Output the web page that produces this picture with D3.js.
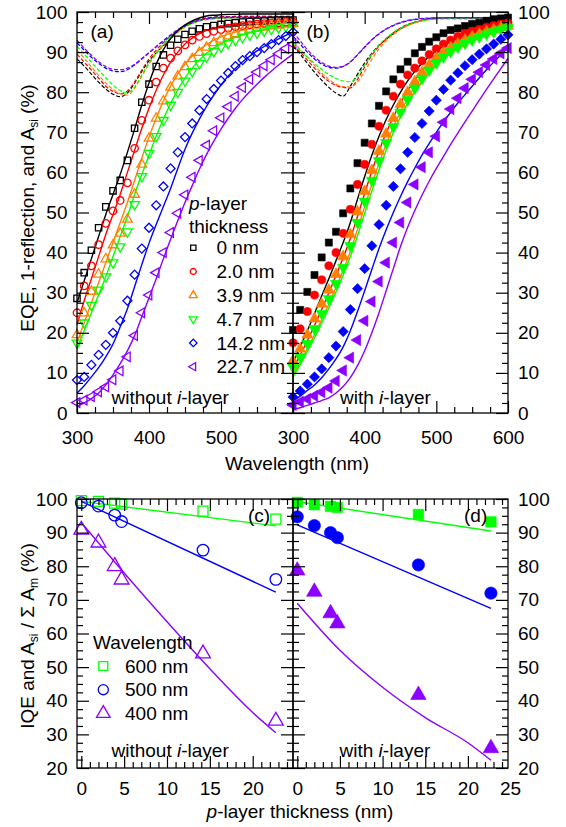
<!DOCTYPE html>
<html>
<head>
<meta charset="utf-8">
<script src="https://cdnjs.cloudflare.com/ajax/libs/d3/7.8.5/d3.min.js"></script>
<style>
  body { margin: 0; background: #fff; }
  text { font-family: Arial, "Liberation Sans", sans-serif; }
</style>
</head>
<body>
<svg id="chart" width="566" height="827"></svg>
<script>
// wavelengths of the spectra (nm)
var wl = [300, 310, 320, 330, 340, 350, 360, 370, 380, 390,
          400, 410, 420, 430, 440, 450, 460, 470, 480, 490,
          500, 510, 520, 530, 540, 550, 560, 570, 580, 590, 600];

var thickLabels = ["0 nm", "2.0 nm", "3.9 nm", "4.7 nm", "14.2 nm", "22.7 nm"];
var colors = ["#000000", "#ff0000", "#ff8000", "#00ff00", "#0000ff", "#8b00ff"];
var shapes = ["square", "circle", "up", "down", "diamond", "left"];

// (a) measured EQE, without i-layer
var eqeA = [
  [28.6, 35.0, 40.6, 46.2, 51.4, 55.4, 58.0, 63.0, 71.0, 77.5,
   82.0, 86.4, 89.3, 91.7, 93.2, 94.4, 95.2, 95.8, 96.3, 96.6,
   96.9, 97.1, 97.3, 97.5, 97.6, 97.7, 97.8, 97.9, 98.0, 98.0, 98.0],
  [25.0, 31.7, 36.7, 42.0, 47.3, 50.4, 53.0, 57.4, 66.0, 73.0,
   78.0, 82.5, 86.0, 88.5, 90.3, 91.8, 93.0, 93.9, 94.6, 95.2,
   95.6, 96.0, 96.3, 96.6, 96.8, 97.0, 97.1, 97.2, 97.3, 97.4, 97.5],
  [19.5, 24.9, 30.3, 34.6, 38.4, 41.9, 44.8, 48.3, 54.5, 62.0,
   68.5, 73.5, 77.8, 81.2, 84.0, 86.3, 88.3, 89.9, 91.2, 92.3,
   93.2, 94.0, 94.6, 95.1, 95.5, 95.9, 96.2, 96.5, 96.7, 96.9, 97.1],
  [17.5, 22.5, 26.9, 30.7, 34.0, 37.5, 41.5, 45.2, 52.0, 59.0,
   64.8, 69.0, 73.0, 76.8, 80.0, 82.8, 85.2, 87.2, 88.8, 90.2,
   91.3, 92.2, 93.0, 93.7, 94.3, 94.8, 95.3, 95.7, 96.1, 96.4, 96.7],
  [8.2, 9.0, 12.0, 14.5, 17.0, 20.0, 23.0, 28.0, 34.5, 41.0,
   46.2, 51.8, 56.5, 61.0, 65.0, 68.8, 72.2, 75.5, 78.3, 80.8,
   82.9, 84.8, 86.5, 88.0, 89.0, 90.0, 91.0, 92.0, 93.0, 94.0, 95.0],
  [2.6, 3.2, 4.1, 5.3, 6.5, 8.3, 10.5, 14.0, 19.3, 25.0,
   29.4, 35.0, 40.0, 45.0, 49.8, 54.4, 58.8, 63.0, 66.8, 70.4,
   73.6, 76.4, 79.0, 81.2, 83.2, 85.0, 86.6, 88.1, 89.6, 90.9, 92.0]
];

// (a) simulated A_si
var simA = [
  [27.5, 33.0, 38.5, 44.0, 49.5, 54.5, 59.5, 65.0, 70.8, 76.8,
   82.3, 87.0, 90.6, 93.4, 95.4, 96.8, 97.8, 98.5, 99.0, 99.2,
   99.3, 99.4, 99.4, 99.5, 99.5, 99.5, 99.5, 99.5, 99.5, 99.5, 99.5],
  [22.0, 28.0, 33.5, 39.0, 44.5, 49.5, 54.5, 60.0, 65.5, 71.0,
   76.0, 80.5, 84.3, 87.5, 90.0, 92.0, 93.5, 94.6, 95.4, 96.0,
   96.4, 96.7, 96.9, 97.1, 97.3, 97.4, 97.5, 97.6, 97.7, 97.7, 97.8],
  [17.5, 22.5, 27.5, 32.5, 37.5, 42.5, 47.5, 52.5, 58.0, 63.5,
   68.8, 73.5, 77.8, 81.5, 84.5, 87.0, 89.0, 90.6, 91.9, 93.0,
   93.8, 94.5, 95.0, 95.5, 95.9, 96.2, 96.5, 96.7, 96.9, 97.1, 97.3],
  [16.0, 20.5, 25.0, 29.5, 34.0, 39.0, 44.0, 49.0, 54.5, 59.5,
   64.3, 69.0, 73.3, 77.2, 80.6, 83.5, 86.0, 88.0, 89.7, 91.0,
   92.1, 93.0, 93.7, 94.3, 94.8, 95.2, 95.6, 95.9, 96.2, 96.5, 96.7],
  [5.0, 6.8, 9.0, 11.3, 14.0, 17.2, 21.5, 26.0, 31.5, 37.0,
   42.3, 47.0, 51.5, 56.0, 61.0, 65.8, 69.8, 73.3, 76.5, 79.3,
   81.8, 84.0, 85.9, 87.6, 89.0, 90.3, 91.4, 92.4, 93.3, 94.2, 95.0],
  [1.6, 2.5, 3.6, 5.0, 7.0, 9.5, 12.3, 15.5, 19.3, 24.0,
   28.7, 33.5, 38.5, 43.3, 48.0, 52.5, 56.7, 60.8, 64.5, 67.8,
   70.8, 73.5, 76.0, 78.2, 80.2, 82.0, 83.7, 85.3, 86.8, 88.2, 89.5]
];

// (a) 1-reflection
var refA = [
  [88.3, 86.5, 84.5, 82.5, 80.8, 79.5, 78.9, 79.8, 82.3, 85.2,
   87.8, 89.8, 91.6, 93.3, 95.0, 96.5, 97.5, 98.1, 98.5, 98.7,
   98.8, 98.8, 98.9, 98.9, 98.9, 98.9, 98.9, 98.9, 98.9, 98.9, 98.9],
  [89.5, 87.5, 85.5, 83.5, 81.5, 80.2, 79.6, 80.3, 82.5, 85.5,
   88.3, 90.5, 92.4, 94.0, 95.4, 96.6, 97.5, 98.1, 98.4, 98.6,
   98.7, 98.7, 98.8, 98.8, 98.8, 98.8, 98.8, 98.8, 98.8, 98.8, 98.8],
  [90.5, 88.5, 86.3, 84.2, 82.3, 80.7, 79.6, 79.3, 81.0, 84.0,
   87.0, 89.5, 91.7, 93.5, 95.0, 96.2, 97.1, 97.7, 98.1, 98.3,
   98.4, 98.5, 98.5, 98.5, 98.5, 98.5, 98.5, 98.5, 98.5, 98.5, 98.5],
  [91.5, 89.5, 87.5, 85.5, 83.6, 81.8, 80.4, 79.8, 81.3, 84.3,
   87.3, 89.8, 92.0, 93.8, 95.2, 96.3, 97.2, 97.8, 98.2, 98.4,
   98.5, 98.5, 98.5, 98.5, 98.5, 98.5, 98.5, 98.5, 98.5, 98.5, 98.5],
  [92.3, 90.5, 88.7, 87.2, 86.0, 85.3, 85.1, 85.6, 86.8, 88.3,
   89.8, 91.3, 92.8, 94.2, 95.5, 96.5, 97.3, 97.9, 98.3, 98.5,
   98.6, 98.6, 98.6, 98.6, 98.6, 98.6, 98.6, 98.6, 98.6, 98.6, 98.6],
  [93.0, 91.0, 89.2, 87.6, 86.4, 85.7, 85.6, 86.0, 87.0, 88.4,
   89.9, 91.4, 92.9, 94.3, 95.6, 96.6, 97.4, 98.0, 98.4, 98.6,
   98.7, 98.7, 98.7, 98.7, 98.7, 98.7, 98.7, 98.7, 98.7, 98.7, 98.7]
];

// (b) measured EQE, with i-layer
var eqeB = [
  [20.7, 25.7, 30.2, 34.4, 38.8, 42.5, 45.2, 49.8, 56.0, 62.3,
   67.4, 72.2, 76.6, 80.2, 83.2, 85.7, 87.6, 89.7, 91.3, 92.6,
   93.7, 94.7, 95.5, 95.9, 96.5, 97.0, 97.3, 97.8, 98.2, 98.4, 98.6],
  [17.5, 21.0, 25.3, 29.4, 33.2, 36.7, 40.0, 44.8, 50.8, 57.0,
   62.0, 67.0, 71.5, 75.5, 79.0, 82.0, 84.3, 86.0, 87.8, 89.4,
   90.8, 92.0, 93.0, 93.9, 94.6, 95.2, 95.7, 96.2, 96.6, 97.0, 97.3],
  [13.0, 16.0, 19.5, 23.5, 27.2, 30.7, 34.6, 39.0, 44.5, 50.2,
   55.3, 60.5, 65.3, 69.6, 73.5, 77.0, 80.0, 82.6, 84.9, 86.8,
   88.5, 89.9, 91.1, 92.1, 93.0, 93.8, 94.5, 95.1, 95.6, 96.1, 96.5],
  [11.5, 14.0, 17.3, 21.0, 24.8, 28.5, 32.3, 36.3, 41.7, 47.5,
   52.8, 58.0, 62.9, 67.4, 71.4, 75.0, 78.2, 81.0, 83.4, 85.5,
   87.3, 88.8, 90.1, 91.2, 92.2, 93.0, 93.8, 94.5, 95.1, 95.6, 96.1],
  [4.0, 5.5, 7.2, 9.0, 11.0, 13.8, 16.7, 20.3, 25.8, 31.0,
   36.0, 41.7, 47.0, 51.8, 56.5, 60.9, 65.0, 68.7, 72.2, 75.3,
   78.0, 80.7, 83.0, 84.8, 86.6, 88.1, 89.5, 90.8, 92.0, 93.2, 94.3],
  [2.0, 2.8, 3.5, 4.3, 5.2, 6.3, 8.0, 10.6, 13.8, 18.2,
   23.0, 27.8, 32.8, 37.5, 42.5, 47.5, 52.5, 57.0, 61.3, 65.0,
   69.0, 72.5, 75.8, 78.5, 81.0, 83.2, 85.0, 86.8, 88.3, 89.7, 91.0]
];

// (b) simulated A_si
var simB = [
  [12.5, 16.5, 20.5, 24.8, 29.2, 33.5, 38.0, 42.5, 47.5, 53.3,
   59.0, 64.3, 69.0, 73.2, 76.8, 80.0, 82.8, 85.2, 87.2, 88.9,
   90.3, 91.5, 92.6, 93.5, 94.3, 95.0, 95.6, 96.1, 96.6, 97.0, 97.4],
  [11.0, 14.5, 18.0, 21.8, 25.8, 30.0, 34.3, 38.7, 43.5, 49.0,
   54.8, 60.3, 65.3, 69.8, 73.8, 77.3, 80.4, 83.0, 85.3, 87.2,
   88.8, 90.2, 91.4, 92.4, 93.3, 94.1, 94.8, 95.4, 95.9, 96.4, 96.8],
  [9.5, 12.5, 16.0, 19.5, 23.3, 27.2, 31.3, 35.6, 40.3, 45.8,
   51.5, 57.0, 62.2, 67.0, 71.3, 75.1, 78.4, 81.3, 83.8, 85.9,
   87.7, 89.3, 90.6, 91.8, 92.8, 93.7, 94.4, 95.1, 95.6, 96.1, 96.5],
  [9.0, 12.0, 15.3, 18.7, 22.4, 26.2, 30.2, 34.4, 39.0, 44.2,
   49.8, 55.3, 60.6, 65.5, 69.9, 73.8, 77.2, 80.2, 82.8, 85.0,
   86.9, 88.6, 90.0, 91.2, 92.3, 93.2, 94.0, 94.7, 95.3, 95.8, 96.3],
  [3.0, 4.2, 5.6, 7.0, 8.8, 11.0, 13.5, 16.5, 20.5, 25.3,
   30.5, 35.8, 41.0, 45.7, 50.0, 54.0, 57.7, 61.1, 64.3, 67.2,
   70.0, 72.6, 75.0, 77.3, 79.4, 81.5, 83.6, 85.6, 87.5, 89.3, 91.0],
  [0.8, 1.3, 1.9, 2.5, 3.1, 3.8, 5.0, 6.6, 8.8, 11.8,
   15.5, 20.0, 25.0, 30.5, 36.0, 41.5, 46.3, 50.5, 54.3, 57.8,
   61.0, 64.0, 67.0, 69.8, 72.6, 75.3, 78.0, 80.7, 83.3, 85.9, 88.4]
];

// (b) 1-reflection
var refB = [
  [91.5, 89.5, 87.2, 85.0, 83.0, 81.2, 79.8, 79.0, 81.5, 84.5,
   87.3, 89.7, 91.7, 93.2, 94.6, 95.8, 96.7, 97.4, 97.9, 98.2,
   98.4, 98.5, 98.6, 98.6, 98.6, 98.6, 98.6, 98.6, 98.6, 98.6, 98.6],
  [91.8, 90.0, 88.0, 86.0, 84.2, 82.7, 81.7, 81.2, 81.1, 83.2,
   86.3, 89.2, 91.5, 93.3, 94.8, 96.0, 96.9, 97.5, 97.9, 98.2,
   98.4, 98.5, 98.5, 98.5, 98.5, 98.5, 98.5, 98.5, 98.5, 98.5, 98.5],
  [92.5, 90.7, 88.7, 86.7, 84.8, 83.2, 82.0, 81.4, 81.3, 82.5,
   85.2, 88.2, 90.8, 92.8, 94.4, 95.7, 96.6, 97.3, 97.8, 98.1,
   98.3, 98.4, 98.4, 98.4, 98.4, 98.4, 98.4, 98.4, 98.4, 98.4, 98.4],
  [92.0, 90.5, 88.8, 87.2, 85.7, 84.4, 83.4, 82.8, 82.6, 84.0,
   86.8, 89.5, 91.8, 93.5, 94.9, 96.0, 96.8, 97.4, 97.8, 98.1,
   98.3, 98.3, 98.3, 98.3, 98.3, 98.3, 98.3, 98.3, 98.3, 98.3, 98.3],
  [94.0, 92.0, 90.0, 88.3, 87.0, 86.2, 86.0, 86.4, 87.5, 89.3,
   91.2, 93.0, 94.5, 95.7, 96.6, 97.3, 97.8, 98.1, 98.3, 98.4,
   98.5, 98.5, 98.5, 98.5, 98.5, 98.5, 98.5, 98.5, 98.5, 98.5, 98.5],
  [95.0, 92.8, 90.6, 88.8, 87.4, 86.5, 86.2, 86.5, 87.6, 89.4,
   91.3, 93.1, 94.6, 95.8, 96.7, 97.4, 97.9, 98.2, 98.4, 98.5,
   98.6, 98.6, 98.6, 98.6, 98.6, 98.6, 98.6, 98.6, 98.6, 98.6, 98.6]
];

// (c)/(d) IQE vs p-layer thickness
var thick = [0, 2.0, 3.9, 4.7, 14.2, 22.7];
var wlLabels = ["600 nm", "500 nm", "400 nm"];
var wlColors = ["#00ff00", "#0000ff", "#8b00ff"];
var wlShapes = ["square", "circle", "up"];

var iqeC600 = [99.5, 99.3, 98.8, 98.5, 96.4, 94.0];
var iqeC500 = [98.9, 97.9, 95.2, 93.3, 84.8, 76.1];
var iqeC400 = [90.8, 87.0, 80.0, 76.0, 54.0, 34.0];
var iqeD600 = [99.0, 98.3, 97.8, 97.5, 95.4, 93.2];
var iqeD500 = [94.7, 92.1, 90.0, 88.5, 80.4, 72.0];
var iqeD400 = [78.7, 72.4, 66.0, 63.0, 41.7, 25.9];

// simulated A_si / sum A_m
var fitT2 = [0, 22.7];
var fitT6 = [0, 5, 10, 15, 20, 22.7];
var fitC600 = [99.3, 92.0];
var fitC500 = [99.3, 72.3];
var fitC400 = [93.0, 78.0, 63.5, 49.5, 36.5, 30.5];
var fitD600 = [99.2, 90.5];
var fitD500 = [92.3, 67.5];
var fitD400 = [69.0, 55.0, 44.0, 35.0, 27.5, 22.3];

// tick labels
var yTicksTop = [0, 10, 20, 30, 40, 50, 60, 70, 80, 90, 100];
var xTicksA = [300, 400, 500];
var xTicksB = [300, 400, 500, 600];
var yTicksBot = [20, 30, 40, 50, 60, 70, 80, 90, 100];
var xTicksBot = [0, 5, 10, 15, 20];

var svg = d3.select("#chart");

// scales
var xA = d3.scaleLinear().domain([300, 600]).range([77, 293]);
var xB = d3.scaleLinear().domain([300, 600]).range([293, 508]);
var yT = d3.scaleLinear().domain([0, 100]).range([413, 12]);
var xC = d3.scaleLinear().domain([-0.5, 24.7]).range([77, 293]);
var xD = d3.scaleLinear().domain([-0.5, 24.7]).range([293, 508]);
var yL = d3.scaleLinear().domain([20, 100]).range([768, 499]);

// frame with inward ticks on all four sides
function frame(x, y, o) {
  var x0 = x.range()[0], x1 = x.range()[1];
  var y1 = y.range()[0], y0 = y.range()[1];
  var g = svg.append("g");
  var sides = [
    {fn: d3.axisBottom, sc: x, tr: "translate(0," + y1 + ")", maj: o.xMaj, min: o.xMin, lab: o.xLab, pad: o.xPad},
    {fn: d3.axisTop, sc: x, tr: "translate(0," + y0 + ")", maj: o.xMaj, min: o.xMin},
    {fn: d3.axisLeft, sc: y, tr: "translate(" + x0 + ",0)", maj: o.yMaj, min: o.yMin, lab: o.yLabL, pad: 9.5},
    {fn: d3.axisRight, sc: y, tr: "translate(" + x1 + ",0)", maj: o.yMaj, min: o.yMin, lab: o.yLabR, pad: 10}
  ];
  sides.forEach(function(s) {
    g.append("g").attr("transform", s.tr)
      .call(s.fn(s.sc).tickValues(s.min).tickSize(-6).tickFormat(""));
    g.append("g").attr("transform", s.tr)
      .call(s.fn(s.sc).tickValues(s.maj).tickSize(-12).tickPadding(s.pad || 9)
        .tickFormat(function(d) { return s.lab && s.lab.indexOf(d) >= 0 ? d : ""; }));
  });
  g.selectAll(".domain").remove();
  g.selectAll("line").attr("stroke", "#000").attr("stroke-width", 1.2);
  g.selectAll("text").attr("font-size", 19).attr("fill", "#000")
    .style("font-family", "Arial, 'Liberation Sans', sans-serif");
  g.append("rect").attr("x", x0).attr("y", y0)
    .attr("width", x1 - x0).attr("height", y1 - y0)
    .attr("fill", "none").attr("stroke", "#000").attr("stroke-width", 1.3);
}

function marker(g, kind, x, y, size, color, filled) {
  var type = d3.symbolTriangle, rot = 0;
  if (kind == "square") type = d3.symbolSquare;
  else if (kind == "circle") type = d3.symbolCircle;
  else if (kind == "diamond") { type = d3.symbolSquare; rot = 45; }
  else if (kind == "down") rot = 180;
  else if (kind == "left") rot = -90;
  g.append("path")
    .attr("d", d3.symbol().type(type).size(size)())
    .attr("transform", "translate(" + x + "," + y + ") rotate(" + rot + ")")
    .attr("fill", filled ? color : "none")
    .attr("stroke", color)
    .attr("stroke-width", filled ? 0.6 : 1.3);
}

function spectra(xs, ref, sim, eqe, filled) {
  var g = svg.append("g");
  var line = d3.line()
    .x(function(d, i) { return xs(wl[i]); })
    .y(function(d) { return yT(d); })
    .curve(d3.curveMonotoneX);
  ref.forEach(function(s, k) {
    g.append("path").attr("d", line(s)).attr("fill", "none")
      .attr("stroke", colors[k]).attr("stroke-width", 1.2).attr("stroke-dasharray", "4,2");
  });
  sim.forEach(function(s, k) {
    g.append("path").attr("d", line(s)).attr("fill", "none")
      .attr("stroke", colors[k]).attr("stroke-width", 1.4);
  });
  var oSize = [40, 44, 40, 40, 40, 40];
  var fSize = [50, 52, 55, 55, 52, 55];
  eqe.forEach(function(s, k) {
    s.forEach(function(v, i) {
      marker(g, shapes[k], xs(wl[i]), yT(v), filled ? fSize[k] : oSize[k], colors[k], filled);
    });
  });
}

function iqe(xs, pts, fits, filled) {
  var g = svg.append("g");
  fits.forEach(function(f, k) {
    var line = d3.line()
      .x(function(d, i) { return xs(f.t[i]); })
      .y(function(d) { return yL(d); })
      .curve(d3.curveMonotoneX);
    g.append("path").attr("d", line(f.v)).attr("fill", "none")
      .attr("stroke", wlColors[k]).attr("stroke-width", 1.4);
  });
  var sz = filled ? [110, 120, 105] : [100, 105, 95];
  pts.forEach(function(s, k) {
    s.forEach(function(v, i) {
      marker(g, wlShapes[k], xs(thick[i]), yL(v), sz[k], wlColors[k], filled);
    });
  });
}

function label(x, y, parts, opts) {
  var t = svg.append("text").attr("x", x).attr("y", y)
    .attr("font-size", 19).attr("fill", "#000");
  if (opts && opts.anchor) t.attr("text-anchor", opts.anchor);
  if (opts && opts.rotate) t.attr("transform", "rotate(-90," + x + "," + y + ")");
  parts.forEach(function(p) {
    var s = t.append("tspan").text(p.t);
    if (p.i) s.attr("font-style", "italic");
    if (p.sub) s.attr("font-size", 12).attr("dy", 4);
    if (p.up) s.attr("dy", -4);
  });
  return t;
}

var minorTop = d3.range(0, 100.1, 2.5).filter(function(d) { return d % 10 != 0; });
var minorWl = d3.range(300, 601, 25).filter(function(d) { return d % 100 != 0; });
var minorBot = d3.range(20, 100.1, 2.5).filter(function(d) { return d % 10 != 0; });
var minorT = d3.range(0, 25, 1).filter(function(d) { return d % 5 != 0; });

// top panels
spectra(xA, refA, simA, eqeA, false);
spectra(xB, refB, simB, eqeB, true);
frame(xA, yT, {xMaj: [300, 400, 500, 600], xMin: minorWl, xLab: xTicksA, xPad: 18,
               yMaj: yTicksTop, yMin: minorTop, yLabL: yTicksTop});
frame(xB, yT, {xMaj: [300, 400, 500, 600], xMin: minorWl, xLab: xTicksB, xPad: 18,
               yMaj: yTicksTop, yMin: minorTop, yLabR: yTicksTop});

// bottom panels
iqe(xC, [iqeC600, iqeC500, iqeC400],
    [{t: fitT2, v: fitC600}, {t: fitT2, v: fitC500}, {t: fitT6, v: fitC400}], false);
iqe(xD, [iqeD600, iqeD500, iqeD400],
    [{t: fitT2, v: fitD600}, {t: fitT2, v: fitD500}, {t: fitT6, v: fitD400}], true);
frame(xC, yL, {xMaj: xTicksBot, xMin: minorT, xLab: xTicksBot, xPad: 13.5,
               yMaj: yTicksBot, yMin: minorBot, yLabL: yTicksBot});
frame(xD, yL, {xMaj: xTicksBot, xMin: minorT, xLab: xTicksBot, xPad: 13.5,
               yMaj: yTicksBot, yMin: minorBot, yLabR: yTicksBot});
label(xD(25), 795, [{t: "25"}], {anchor: "middle"});

// panel tags and notes
label(90.5, 38, [{t: "(a)"}]);
label(306.5, 38, [{t: "(b)"}]);
label(248, 522, [{t: "(c)"}]);
label(464, 522, [{t: "(d)"}]);
label(111.5, 404, [{t: "without "}, {t: "i", i: true}, {t: "-layer"}]);
label(340, 404, [{t: "with "}, {t: "i", i: true}, {t: "-layer"}]);
label(111.5, 757, [{t: "without "}, {t: "i", i: true}, {t: "-layer"}]);
label(339.5, 757, [{t: "with "}, {t: "i", i: true}, {t: "-layer"}]);

// axis titles
label(34, 208, [{t: "EQE, 1-reflection, and A"}, {t: "si", sub: true}, {t: " (%)", up: true}],
      {anchor: "middle", rotate: true});
label(34, 636, [{t: "IQE and A"}, {t: "si", sub: true}, {t: " / \u03a3 A", up: true},
                {t: "m", sub: true}, {t: " (%)", up: true}],
      {anchor: "middle", rotate: true});
label(297, 470, [{t: "Wavelength (nm)"}], {anchor: "middle"});
label(300, 818, [{t: "p", i: true}, {t: "-layer thickness (nm)"}], {anchor: "middle"});

// legend (a)
label(189, 210, [{t: "p", i: true}, {t: "-layer"}]);
label(189, 233, [{t: "thickness"}]);
thickLabels.forEach(function(name, k) {
  var yy = 247.7 + k * 23.8;
  marker(svg, shapes[k], 193.3, yy, 28, colors[k], false);
  label(216.5, yy + 6.6, [{t: name}]);
});

// legend (c)
label(93, 648.5, [{t: "Wavelength"}]);
wlLabels.forEach(function(name, k) {
  var yy = 666 + k * 23.7;
  marker(svg, wlShapes[k], 103.3, yy, 80, wlColors[k], false);
  label(125, yy + 6.6, [{t: name}]);
});
</script>
</body>
</html>
